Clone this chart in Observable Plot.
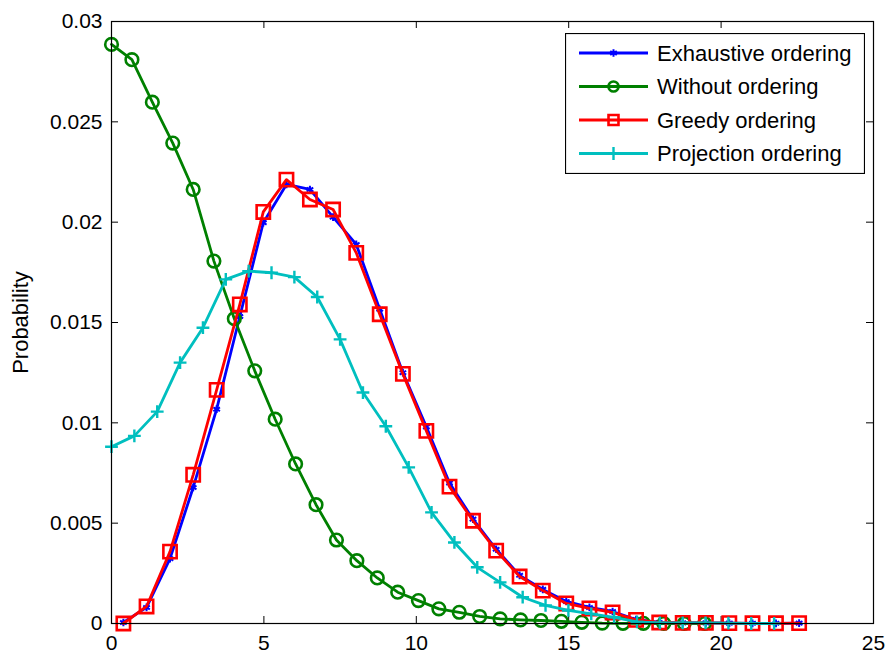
<!DOCTYPE html>
<html>
<head>
<meta charset="utf-8">
<script src="https://cdn.jsdelivr.net/npm/d3@7"></script>
<script src="https://cdn.jsdelivr.net/npm/@observablehq/plot@0.6"></script>
<style>
  body { margin: 0; background: #fff; }
  #wrap { position: relative; width: 889px; height: 658px; }
  #legend { position: absolute; left: 565px; top: 33px; }
  svg { display: block; }
</style>
</head>
<body>
<div id="wrap"><div id="chart"></div><div id="legend"></div></div>
<script>
// ---------- data ----------
const seriesNames = ["Exhaustive ordering", "Without ordering", "Greedy ordering", "Projection ordering"];
const seriesColors = ["#0000ff", "#008000", "#ff0000", "#00bfbf"];

const exhaustiveX = [0.39, 1.15, 1.92, 2.68, 3.45, 4.21, 4.98, 5.74, 6.51, 7.27, 8.03, 8.80, 9.56, 10.33, 11.09, 11.86, 12.62, 13.39, 14.15, 14.92, 15.68, 16.44, 17.21, 17.97, 18.74, 19.50, 20.27, 21.03, 21.80, 22.56];
const exhaustiveY = [0.00005, 0.0008, 0.00323, 0.00678, 0.01068, 0.0153, 0.01997, 0.02188, 0.02163, 0.02025, 0.01889, 0.01566, 0.0125, 0.0098, 0.0070, 0.0052, 0.0037, 0.0024, 0.0017, 0.0011, 0.0008, 0.0006, 0.0002, 0.00005, 0.00003, 0.00003, 0.00002, 0.00001, 0.00001, 0.00002];

const withoutX = [0, 0.67, 1.34, 2.01, 2.68, 3.36, 4.03, 4.70, 5.37, 6.04, 6.71, 7.38, 8.05, 8.72, 9.39, 10.07, 10.74, 11.41, 12.08, 12.75, 13.42, 14.09, 14.76, 15.43, 16.10, 16.78, 17.45, 18.12, 18.79, 19.46];
const withoutY = [0.02886, 0.0281, 0.02598, 0.02394, 0.02163, 0.01806, 0.01519, 0.01259, 0.01018, 0.00795, 0.00592, 0.00416, 0.00313, 0.00227, 0.00156, 0.00114, 0.00073, 0.00056, 0.00035, 0.00023, 0.00018, 0.00015, 0.00011, 0.00006, 0.00002, 0.00001, 0.00001, 0, 0, 0];

const greedyX = exhaustiveX;
const greedyY = [0, 0.00085, 0.00358, 0.00741, 0.01164, 0.0159, 0.02051, 0.02212, 0.02113, 0.02063, 0.01847, 0.01541, 0.01244, 0.0096, 0.00682, 0.00512, 0.00363, 0.00234, 0.00164, 0.0010, 0.00075, 0.00055, 0.00018, 0.00005, 0.00003, 0.00003, 0.00002, 0.00001, 0.00001, 0.00002];

const projectionX = [0, 0.75, 1.50, 2.25, 3.00, 3.75, 4.50, 5.25, 6.00, 6.75, 7.50, 8.25, 9.00, 9.75, 10.50, 11.25, 12.00, 12.75, 13.49, 14.24, 14.99, 15.74, 16.49, 17.24, 17.99, 18.74, 19.49, 20.24, 20.99, 21.74];
const projectionY = [0.00881, 0.00935, 0.01056, 0.0130, 0.01474, 0.01715, 0.01756, 0.01748, 0.01726, 0.01627, 0.01416, 0.01151, 0.00983, 0.00778, 0.00554, 0.00404, 0.0028, 0.00205, 0.00131, 0.0009, 0.00065, 0.00048, 0.00031, 0.00008, 0.00003, 0.00003, 0.00003, 0.00002, 0, 0];

const xTicks = [0, 5, 10, 15, 20, 25];
const yTicks = [0, 0.005, 0.01, 0.015, 0.02, 0.025, 0.03];
const yTickLabels = ["0", "0.005", "0.01", "0.015", "0.02", "0.025", "0.03"];
const yLabel = "Probability";

// ---------- layout / style ----------
const W = 889, H = 658, mL = 111, mR = 16, mT = 21, mB = 35;
const plotW = W - mL - mR, plotH = H - mT - mB;
const tickLen = 7;
const font = "'Liberation Sans', Arial, Helvetica, sans-serif";
const lineW = 2.8;
const markers = [
  {symbol: "asterisk", r: 3.6, sw: 2.0},
  {symbol: "circle", r: 6.3, sw: 2.6},
  {symbol: "square", r: 7.5, sw: 2.6},
  {symbol: "plus", r: 4.2, sw: 2.4}
];

const xs = [exhaustiveX, withoutX, greedyX, projectionX];
const ys = [exhaustiveY, withoutY, greedyY, projectionY];
const tables = xs.map((xa, s) => xa.map((x, i) => ({x, y: ys[s][i]})));

const seriesMarks = tables.flatMap((t, s) => [
  Plot.line(t, {x: "x", y: "y", stroke: seriesColors[s], strokeWidth: lineW}),
  Plot.dot(t, {x: "x", y: "y", symbol: markers[s].symbol, r: markers[s].r, stroke: seriesColors[s], strokeWidth: markers[s].sw, fill: "none"})
]);

const chart = Plot.plot({
  width: W, height: H,
  marginLeft: mL, marginRight: mR, marginTop: mT, marginBottom: mB,
  x: {domain: [0, 25]},
  y: {domain: [0, 0.03]},
  style: {fontFamily: font, fontSize: "21px", background: "white", color: "black"},
  marks: [
    Plot.axisX(xTicks, {tickSize: 0, tickPadding: 12, fontSize: 21, label: null, tickFormat: d => String(d)}),
    Plot.axisY(yTicks, {tickSize: 0, tickPadding: 9, fontSize: 21, label: null, tickFormat: d => yTickLabels[yTicks.indexOf(d)]}),
    Plot.tickX(xTicks, {x: d => d, insetTop: plotH - tickLen, stroke: "black", strokeWidth: 1}),
    Plot.tickX(xTicks, {x: d => d, insetBottom: plotH - tickLen, stroke: "black", strokeWidth: 1}),
    Plot.tickY(yTicks, {y: d => d, insetRight: plotW - tickLen, stroke: "black", strokeWidth: 1}),
    Plot.tickY(yTicks, {y: d => d, insetLeft: plotW - tickLen, stroke: "black", strokeWidth: 1}),
    ...seriesMarks,
    Plot.frame({stroke: "black", strokeWidth: 1.2}),
    Plot.text([yLabel], {text: d => d, frameAnchor: "left", textAnchor: "middle", lineAnchor: "middle", dx: -91, rotate: -90, fontSize: 22, fill: "black"})
  ]
});
document.getElementById("chart").appendChild(chart);

// ---------- legend ----------
const LW = 300, LH = 141;
const rowY0 = 20, rowStep = 33.5, lineX1 = 14, lineX2 = 83, textX = 92;
const lsvg = d3.select("#legend").append("svg").attr("width", LW).attr("height", LH);
lsvg.append("rect").attr("x", 0.5).attr("y", 0.5).attr("width", LW - 1).attr("height", LH - 1)
  .attr("fill", "white").attr("stroke", "black").attr("stroke-width", 1.2);
const d3sym = {asterisk: d3.symbolAsterisk, circle: d3.symbolCircle, square: d3.symbolSquare, plus: d3.symbolPlus};
seriesNames.forEach((name, s) => {
  const y = rowY0 + s * rowStep;
  const g = lsvg.append("g");
  g.append("line").attr("x1", lineX1).attr("x2", lineX2).attr("y1", y).attr("y2", y)
    .attr("stroke", seriesColors[s]).attr("stroke-width", lineW);
  const m = markers[s];
  const scaleR = s === 1 ? 0.8 : (s === 2 ? 0.75 : 1);
  g.append("path").attr("transform", `translate(${(lineX1 + lineX2) / 2},${y})`)
    .attr("d", d3.symbol(d3sym[m.symbol], Math.PI * (m.r * scaleR) ** 2)())
    .attr("fill", "none").attr("stroke", seriesColors[s]).attr("stroke-width", m.sw);
  g.append("text").attr("x", textX).attr("y", y).attr("dy", "0.35em")
    .attr("font-family", font).attr("font-size", 22).attr("fill", "black").text(name);
});
</script>
</body>
</html>
